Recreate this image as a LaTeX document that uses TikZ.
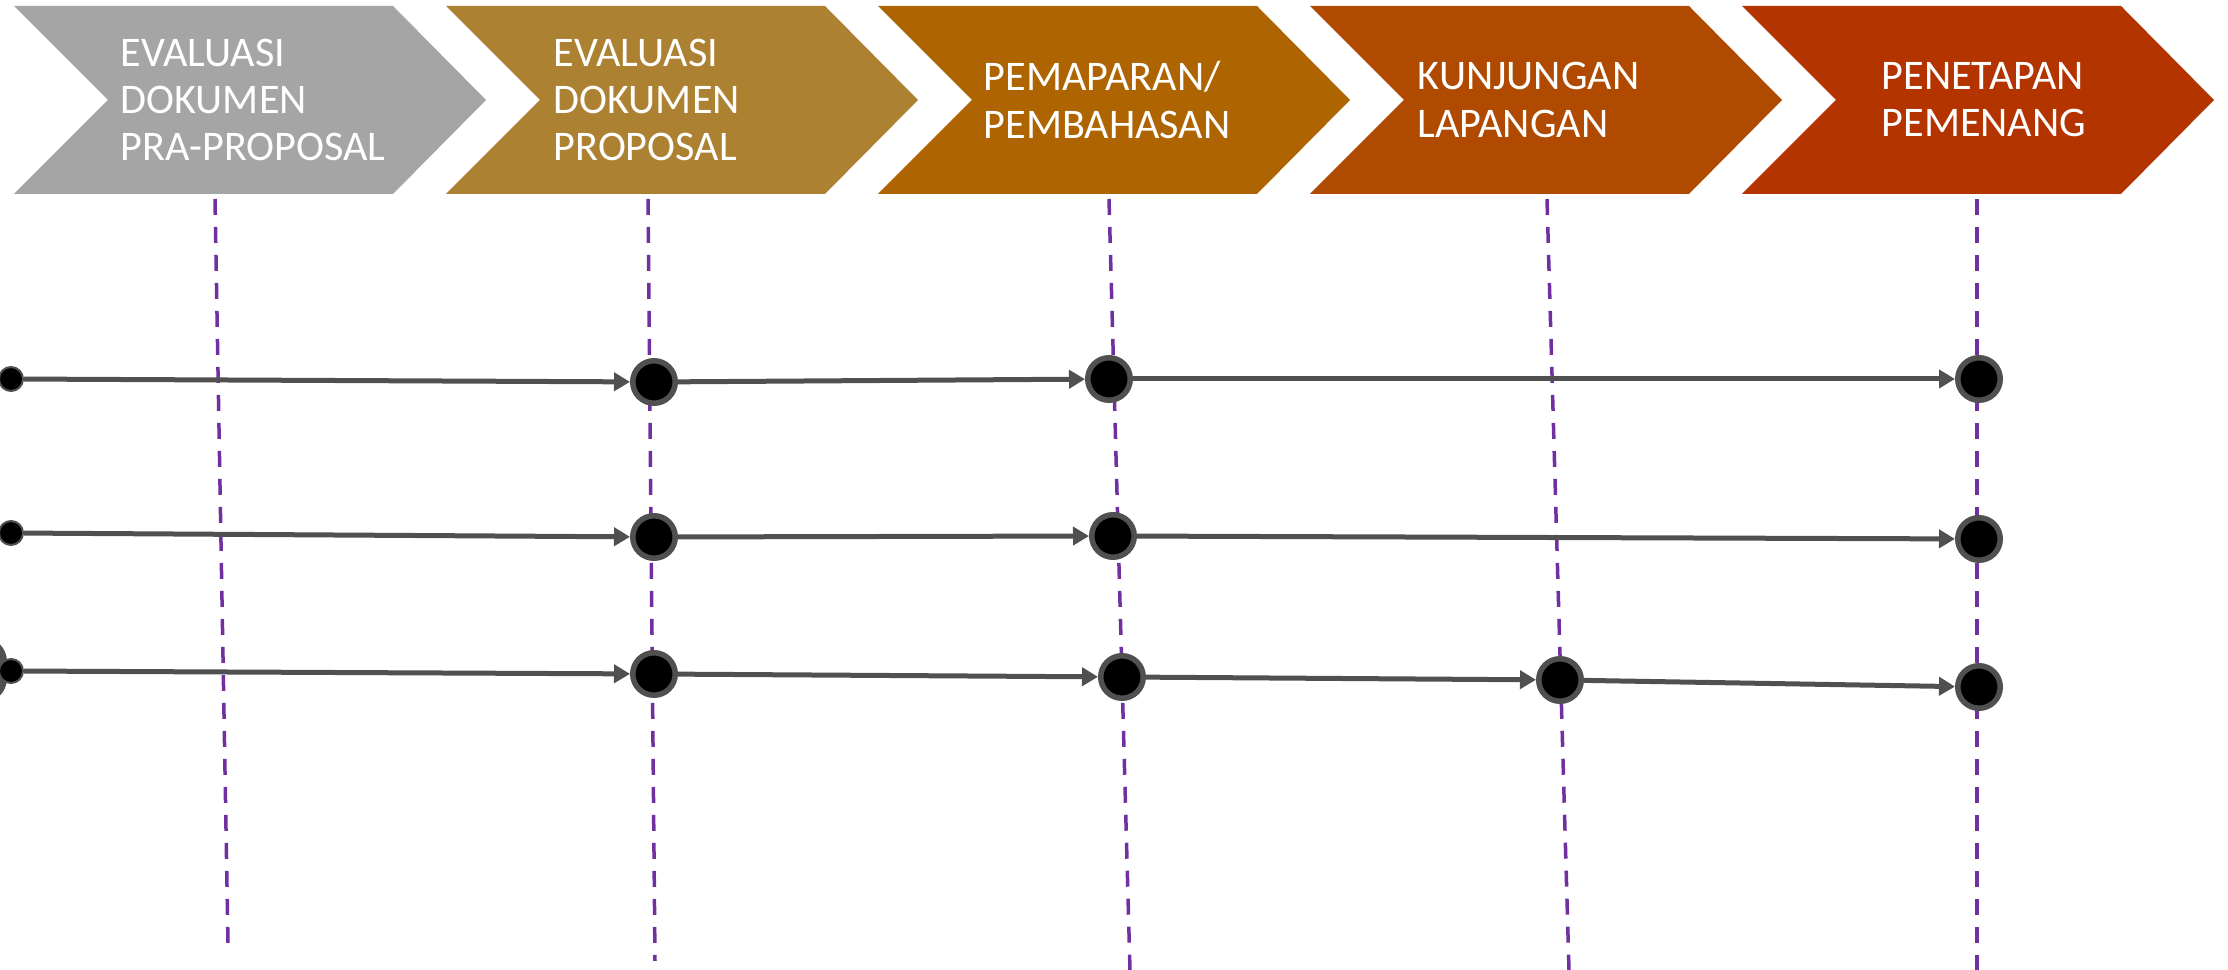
\documentclass[tikz,border=0pt]{standalone}
\usepackage{fontspec}
\setmainfont{Carlito}
\usetikzlibrary{arrows.meta}
\definecolor{stageA}{HTML}{A5A5A5}
\definecolor{stageB}{HTML}{AD8132}
\definecolor{stageC}{HTML}{AE6400}
\definecolor{stageD}{HTML}{B04A00}
\definecolor{stageE}{HTML}{B43400}
\definecolor{guidepurple}{HTML}{7030A0}
\definecolor{dotgray}{HTML}{505050}
\tikzset{stagetext/.style={text=white, align=left, inner sep=0pt, anchor=west, font=\fontsize{12}{13.4}\selectfont},
guide/.style={draw=guidepurple, line width=0.35mm, dash pattern=on 1.6mm off 1.2mm},
startdot/.style={circle, fill=black, draw=dotgray, line width=0.2mm, minimum size=2.4mm, inner sep=0pt},
milestone/.style={circle, fill=black, draw=dotgray, line width=0.55mm, minimum size=4.25mm, inner sep=0pt},
%one step from a dot to the next
flow/.style={draw=dotgray, line width=0.5mm, -{Triangle[length=1.6mm,width=1.8mm]}}}

\begin{document}
\begin{tikzpicture}[x=0.1mm, y=-0.1mm]
\useasboundingbox (0,0) rectangle (2228,970);

\foreach \i/\col/\tx/\txt in {0/stageA/106/{EVALUASI\\DOKUMEN\\PRA-PROPOSAL},
    1/stageB/107/{EVALUASI\\DOKUMEN\\PROPOSAL},
    2/stageC/105/{PEMAPARAN/\\PEMBAHASAN},
    3/stageD/107/{KUNJUNGAN\\LAPANGAN},
    4/stageE/139/{PENETAPAN\\PEMENANG}}
{
    \fill[\col] ({14+432*\i},6) -- ++(379,0) -- ++(93,94) -- ++(-93,94) -- ++(-379,0) -- ++(94,-94) -- cycle;
    \node[stagetext] (stage\i) at ({14+432*\i+\tx},100) {\txt};
}

\coordinate (g1a) at (215,199);
\coordinate (g1b) at (228,943);
\coordinate (g2a) at (648,199);
\coordinate (g2b) at (655,961);
\coordinate (g3a) at (1109,199);
\coordinate (g3b) at (1130,970);
\coordinate (g4a) at (1547,199);
\coordinate (g4b) at (1569,970);
\coordinate (g5a) at (1977,199);
\coordinate (g5b) at (1977,970);

\foreach \i in {1,2,3,4,5}
    \draw[guide] (g\i a) -- (g\i b);

\fill[dotgray, rounded corners=7] (-30,637) rectangle (7,703);

\node[startdot] (r1c0) at (11,379) {};
\node[startdot] (r2c0) at (11,533) {};
\node[startdot] (r3c0) at (11,671) {};

\node[milestone] (r1c2) at (654,382) {};
\node[milestone] (r1c3) at (1109,379) {};
\node[milestone] (r1c5) at (1979,379) {};

\node[milestone] (r2c2) at (654,537) {};
\node[milestone] (r2c3) at (1113,536) {};
\node[milestone] (r2c5) at (1979,539) {};

\node[milestone] (r3c2) at (654,674) {};
\node[milestone] (r3c3) at (1122,677) {};
\node[milestone] (r3c4) at (1560,680) {};
\node[milestone] (r3c5) at (1979,687) {};

\draw[flow] (r1c0) -- (r1c2);
\draw[flow] (r1c2) -- (r1c3);
\draw[flow] (r1c3) -- (r1c5);

\draw[flow] (r2c0) -- (r2c2);
\draw[flow] (r2c2) -- (r2c3);
\draw[flow] (r2c3) -- (r2c5);

\draw[flow] (r3c0) -- (r3c2);
\draw[flow] (r3c2) -- (r3c3);
\draw[flow] (r3c3) -- (r3c4);
\draw[flow] (r3c4) -- (r3c5);

\end{tikzpicture}
\end{document}
